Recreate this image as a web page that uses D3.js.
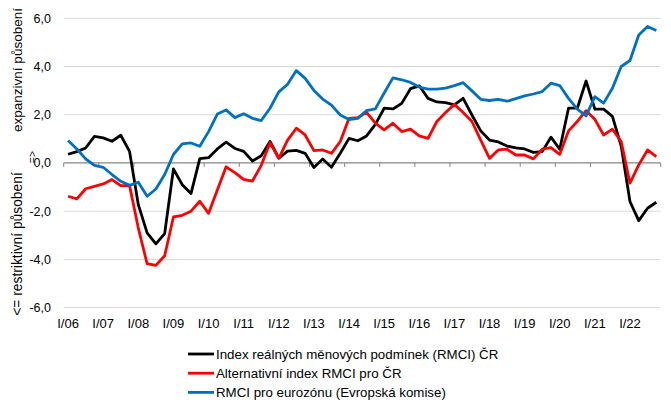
<!DOCTYPE html>
<html><head><meta charset="utf-8">
<script src="https://cdn.jsdelivr.net/npm/d3@7"></script>
<style>
body{margin:0;background:#fff;}
svg{display:block;font-family:"Liberation Sans",Arial,sans-serif;}
</style></head>
<body><svg id="c" width="671" height="403"></svg>
<script>
const years = ["06","07","08","09","10","11","12","13","14","15","16","17","18","19","20","21","22"];
const romans = ["I","II","III","IV"];
const quarters = years.flatMap(y => romans.map(r => r + "/" + y));
const yTicks = [-6,-4,-2,0,2,4,6];

const rmciCR = [0.36,0.47,0.62,1.1,1.04,0.9,1.15,0.48,-1.73,-2.9,-3.36,-2.93,-0.25,-0.9,-1.27,0.18,
  0.22,0.58,0.86,0.6,0.48,0.08,0.3,0.89,0.2,0.49,0.52,0.4,-0.19,0.16,-0.18,0.4,
  1.02,0.92,1.12,1.6,2.27,2.24,2.47,3.08,3.2,2.68,2.53,2.5,2.41,2.68,1.99,1.33,
  0.95,0.87,0.7,0.63,0.58,0.44,0.47,1.07,0.57,2.27,2.27,3.4,2.23,2.23,1.93,0.7,
  -1.6,-2.39,-1.88,-1.63];
const altCR = [-1.38,-1.49,-1.07,-0.97,-0.87,-0.69,-0.94,-0.94,-2.7,-4.18,-4.25,-3.85,-2.24,-2.17,-2.0,-1.59,
  -2.09,-1.12,-0.16,-0.4,-0.68,-0.75,-0.1,0.84,0.19,0.95,1.44,1.16,0.51,0.54,0.4,0.89,
  1.85,1.88,2.1,1.65,1.37,1.65,1.3,1.4,1.12,1.02,1.72,2.09,2.43,2.09,1.72,0.95,
  0.19,0.54,0.57,0.33,0.33,0.17,0.57,0.64,0.36,1.33,1.72,2.17,1.81,1.16,1.4,0.89,
  -0.84,-0.08,0.54,0.26];
const rmciEA = [0.93,0.58,0.17,-0.1,-0.18,-0.48,-0.76,-0.93,-0.8,-1.38,-1.08,-0.48,0.35,0.79,0.83,0.69,
  1.3,2.03,2.2,1.88,2.04,1.85,1.76,2.27,2.95,3.26,3.83,3.51,3.01,2.65,2.4,1.99,
  1.8,1.85,2.17,2.24,2.9,3.53,3.45,3.34,3.15,3.06,3.06,3.1,3.21,3.33,2.99,2.64,
  2.59,2.64,2.56,2.67,2.78,2.86,2.96,3.31,3.21,2.68,2.23,1.95,2.75,2.48,3.1,4.0,
  4.25,5.31,5.66,5.49];
const seriesNames = ["Index reálných měnových podmínek (RMCI) ČR","Alternativní index RMCI pro ČR","RMCI pro eurozónu (Evropská komise)"];
const seriesColors = ["#000000","#ff0000","#0070c0"];
const seriesData = [rmciCR, altCR, rmciEA];

const svg = d3.select("#c");
const x = d3.scaleBand().domain(quarters).range([63.7, 660.7]).padding(0);
const y = d3.scaleLinear().domain([-6,6]).range([307.6, 18.3]);
const fmt = v => d3.format(".1f")(v).replace(".", ",").replace("−","-");

// gridlines
svg.append("g").selectAll("line").data(yTicks.filter(v => v !== 0)).join("line")
  .attr("x1", 63.7).attr("x2", 660.7)
  .attr("y1", d => y(d)).attr("y2", d => y(d))
  .attr("stroke", "#d9d9d9").attr("stroke-width", 1);

// y axis labels
const yAxis = d3.axisLeft(y).tickValues(yTicks).tickFormat(fmt).tickSize(0).tickPadding(0);
const ga = svg.append("g").attr("transform", "translate(51,0)").call(yAxis);
ga.select(".domain").remove();
ga.selectAll("text").attr("font-size", 12.5).attr("fill", "#000").attr("font-family", "Liberation Sans, Arial, sans-serif");

// zero axis with ticks
const xAxis = d3.axisBottom(x).tickValues(quarters.filter((q,i) => i % 4 === 0)).tickSize(0).tickFormat(d => d);
const gx = svg.append("g").attr("transform", `translate(0,${y(0)})`);
gx.append("line").attr("x1", 63.7).attr("x2", 660.7).attr("y1", 0).attr("y2", 0).attr("stroke", "#868686").attr("stroke-width", 1.3);
const tickPos = d3.range(0, quarters.length + 1, 4).map(i => i < quarters.length ? x(quarters[i]) : x.range()[1]);
gx.selectAll("line.t").data(tickPos).join("line").attr("class","t")
  .attr("x1", d => d).attr("x2", d => d).attr("y1", 0).attr("y2", 4)
  .attr("stroke", "#868686").attr("stroke-width", 1);

// x labels at bottom
const gxl = svg.append("g").attr("transform", "translate(0,313)").call(xAxis);
gxl.select(".domain").remove();
gxl.selectAll("text").attr("font-size", 13).attr("fill", "#000").attr("dy", "0.9em").attr("font-family", "Liberation Sans, Arial, sans-serif");

// series
const line = d3.line().x((d,i) => x(quarters[i]) + x.bandwidth()/2).y(d => y(d));
svg.append("g").selectAll("path").data(seriesData).join("path")
  .attr("d", d => line(d)).attr("fill", "none")
  .attr("stroke", (d,i) => seriesColors[i]).attr("stroke-width", 2.8)
  .attr("stroke-linejoin", "round");

// y titles
svg.append("text").attr("transform", "translate(22,70) rotate(-90)").attr("text-anchor","middle")
  .attr("font-size", 13.5).text("expanzivní působení");
svg.append("text").attr("transform", "translate(22,244) rotate(-90)").attr("text-anchor","middle")
  .attr("font-size", 13.8).text("<= restriktivní působení");
svg.append("text").attr("transform", "translate(36,157) rotate(-90)").attr("text-anchor","middle")
  .attr("font-size", 10.5).text("=>");

// legend
const lg = svg.append("g").selectAll("g").data(seriesNames).join("g")
  .attr("transform", (d,i) => `translate(188,${354 + i*19.2})`);
lg.append("line").attr("x1",0).attr("x2",26).attr("y1",0).attr("y2",0)
  .attr("stroke",(d,i)=>seriesColors[i]).attr("stroke-width",2.8);
lg.append("text").attr("x",28).attr("y",0).attr("dy","0.35em").attr("font-size",13.3).text(d => d);
</script></body></html>
